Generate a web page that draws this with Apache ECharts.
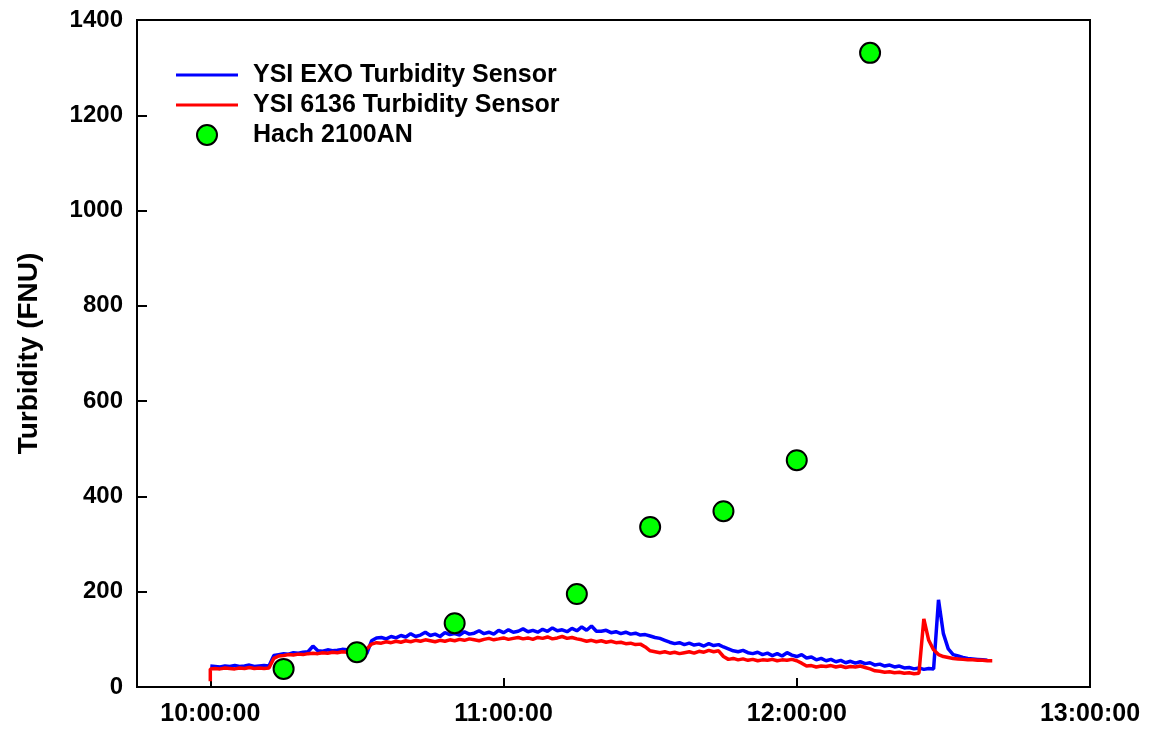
<!DOCTYPE html>
<html>
<head>
<meta charset="utf-8">
<script src="https://cdn.jsdelivr.net/npm/echarts@6/dist/echarts.min.js"></script>
<style>html,body{margin:0;padding:0;background:#fff}#c{width:1159px;height:732px}</style>
</head>
<body>
<div id="c"></div>
<script>
// Time axis in minutes after 10:00:00
const xTickValues = [0, 60, 120, 180];
const xTickLabels = ['10:00:00', '11:00:00', '12:00:00', '13:00:00'];
const yTickStep = 200;

// YSI EXO, one reading per minute from 10:00
const exoValues = [44,43,42,44,43,45,43,44,46,43,44,45,44,
66,68,70,69,72,71,73,74,86,76,75,78,76,77,79,78,80,78,76,
70,97,103,104,101,106,103,108,105,112,106,109,115,108,111,106,114,110,112,109,116,111,113,118,112,115,111,119,
114,120,115,117,122,116,119,115,121,117,124,118,120,116,123,118,126,119,128,117,
117,119,114,116,112,115,111,113,109,110,107,104,102,98,94,91,93,89,92,88,90,86,91,87,89,84,80,76,74,77,72,70,73,68,71,66,70,65,72,
67,64,68,61,63,57,60,55,58,53,56,51,54,50,53,49,51,46,48,44,46,42,44,40,41,38,40,37,39,38,
183,112,80,68,65,62,60,59,58,57,56];

// YSI 6136, one reading per minute from 10:00
const ysi6136Start = 12;
const ysi6136Values = [38,39,38,40,39,38,40,39,41,39,40,39,40,
60,65,66,68,67,69,68,70,71,70,72,71,73,72,74,73,74,73,75,
80,90,93,92,95,93,96,94,97,95,98,96,99,97,95,98,96,99,97,100,98,101,99,97,100,102,99,101,
103,100,102,104,101,103,100,104,102,105,101,103,106,102,104,101,99,96,98,95,
97,94,96,93,94,91,92,89,90,84,76,74,72,74,71,73,70,72,74,71,75,73,77,74,76,64,58,60,57,59,56,58,55,57,56,58,55,57,56,58,
55,50,44,45,42,44,43,45,42,44,41,43,42,44,41,38,34,33,31,32,30,31,29,30,28,29,
143,98,78,68,64,62,60,59,58,57,57,56,56,55,55];

// Hach 2100AN grab samples
const hachTimes = [15, 30, 50, 75, 90, 105, 120, 135];
const hachValues = [38, 73, 134, 195, 336, 369, 476, 1331];

const exoData = exoValues.map((v, i) => [i, v]);
const ysiData = [[0, ysi6136Start]].concat(ysi6136Values.map((v, i) => [i, v]));
const hachData = hachTimes.map((t, i) => [t, hachValues[i]]);

const FONT = 'Liberation Sans, Arial, sans-serif';
const LINE_ICON = 'path://M0,0L62,0L62,3L0,3Z';
const chart = echarts.init(document.getElementById('c'), null, {renderer: 'canvas'});
chart.setOption({
  animation: false,
  backgroundColor: '#fff',
  grid: {left: 137, right: 69, top: 20, bottom: 45, show: true, borderColor: '#000', borderWidth: 2, containLabel: false},
  legend: {
    orient: 'vertical', left: 176, top: 60, padding: 0, itemWidth: 62, itemHeight: 20, itemGap: 0,
    textStyle: {fontFamily: FONT, fontSize: 25, fontWeight: 'bold', color: '#000', lineHeight: 30, padding: [0, 0, 0, 10]},
    data: [
      {name: 'YSI EXO Turbidity Sensor', icon: LINE_ICON},
      {name: 'YSI 6136 Turbidity Sensor', icon: LINE_ICON},
      {name: 'Hach 2100AN', icon: 'circle'}
    ]
  },
  xAxis: {
    type: 'value', min: -15, max: 180,
    splitLine: {show: false},
    axisLine: {show: true, onZero: false, lineStyle: {color: '#000', width: 2}},
    axisTick: {show: true, inside: true, length: 9, lineStyle: {color: '#000', width: 2}, customValues: xTickValues},
    axisLabel: {customValues: xTickValues, margin: 15, fontFamily: FONT, fontSize: 25, fontWeight: 'bold', color: '#000',
      formatter: v => xTickLabels[xTickValues.indexOf(v)] || ''}
  },
  yAxis: {
    type: 'value', min: 0, max: 1400, interval: yTickStep,
    name: 'Turbidity (FNU)', nameLocation: 'middle', nameGap: 94,
    nameTextStyle: {fontFamily: FONT, fontSize: 28, fontWeight: 'bold', color: '#000'},
    splitLine: {show: false},
    axisLine: {show: true, onZero: false, lineStyle: {color: '#000', width: 2}},
    axisTick: {show: true, inside: true, length: 10, lineStyle: {color: '#000', width: 2}},
    axisLabel: {margin: 14, fontFamily: FONT, fontSize: 24, fontWeight: 'bold', color: '#000', formatter: v => String(v)}
  },
  series: [
    {name: 'YSI EXO Turbidity Sensor', type: 'line', data: exoData, showSymbol: false, symbol: 'none',
      lineStyle: {color: '#0000ff', width: 3.5}, itemStyle: {color: '#0000ff'}, z: 2},
    {name: 'YSI 6136 Turbidity Sensor', type: 'line', data: ysiData, showSymbol: false, symbol: 'none',
      lineStyle: {color: '#ff0000', width: 3.5}, itemStyle: {color: '#ff0000'}, z: 3},
    {name: 'Hach 2100AN', type: 'scatter', data: hachData, symbol: 'circle', symbolSize: 20,
      itemStyle: {color: '#00ff00', borderColor: '#000', borderWidth: 2, opacity: 1}, z: 4}
  ]
});
</script>
</body>
</html>
